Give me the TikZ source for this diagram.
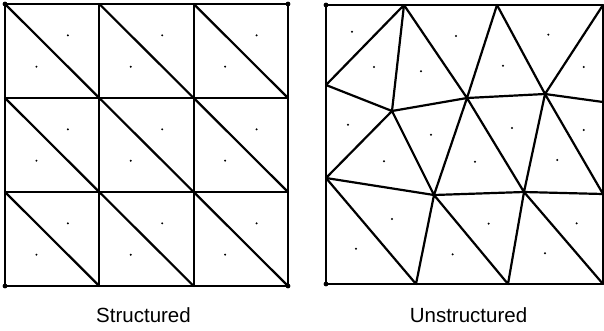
\documentclass[tikz,border=0pt]{standalone}
\usepackage{fontspec}
\setmainfont{Liberation Sans}
\usetikzlibrary{calc}
\tikzset{
  edge/.style={line width=2.2pt, line cap=round, line join=round},
  cdot/.style={fill=black},
  lbl/.style={font=\fontsize{20.5}{24}\selectfont, anchor=base}
}
\newcommand{\tridot}[3]{\fill ($0.33333*(#1)+0.33333*(#2)+0.33333*(#3)$) circle (1.1pt);}
\begin{document}
\begin{tikzpicture}[x=1pt,y=-1pt]
\useasboundingbox (0,0) rectangle (604,330);
% ---------- Structured ----------
\foreach \i/\x in {0/5,1/99.3,2/193.7,3/288}{
  \foreach \j/\y in {0/4,1/98,2/192,3/286}{
    \coordinate (s\i\j) at (\x,\y);
  }
}
\foreach \i in {0,1,2,3}{
  \draw[edge] (s\i0) -- (s\i3);
  \draw[edge] (s0\i) -- (s3\i);
}
\foreach \i/\ni in {0/1,1/2,2/3}{
  \foreach \j/\nj in {0/1,1/2,2/3}{
    \draw[edge] (s\i\j) -- (s\ni\nj);
    \tridot{s\i\j}{s\ni\j}{s\ni\nj}
    \tridot{s\i\j}{s\i\nj}{s\ni\nj}
  }
}
\foreach \c in {s00,s30,s03,s33}{\fill (\c) circle (2.4pt);}
\node[lbl] (lab1) at (143.5,322) {Structured};
% ---------- Unstructured ----------
\coordinate (A) at (326,5);
\coordinate (TR) at (603,5);
\coordinate (BL) at (326,284);
\coordinate (BR) at (603,284);
\coordinate (T1) at (404,5);
\coordinate (T2) at (497,5);
\coordinate (L1) at (326,85);
\coordinate (L2) at (326,178);
\coordinate (R1) at (603,102);
\coordinate (R2) at (603,194);
\coordinate (B1) at (416,284);
\coordinate (B2) at (508,284);
\coordinate (P1) at (392,111);
\coordinate (P2) at (467,98);
\coordinate (P3) at (545,94);
\coordinate (P4) at (434,195);
\coordinate (P5) at (524,192);
\draw[edge] (A) -- (TR) -- (BR) -- (BL) -- cycle;
\draw[edge] (L1) -- (T1) -- (P1);
\draw[edge] (T1) -- (P2) -- (T2) -- (P3) -- (TR);
\draw[edge] (L1) -- (P1) -- (P2) -- (P3) -- (R1);
\draw[edge] (L2) -- (P1) -- (P4) -- (P2) -- (P5) -- (P3) -- (R2);
\draw[edge] (L2) -- (P4) -- (P5) -- (R2);
\draw[edge] (L2) -- (B1) -- (P4) -- (B2) -- (P5) -- (BR);
\tridot{A}{T1}{L1}
\tridot{L1}{T1}{P1}
\tridot{T1}{P1}{P2}
\tridot{T1}{T2}{P2}
\tridot{T2}{P2}{P3}
\tridot{T2}{TR}{P3}
\tridot{TR}{P3}{R1}
\tridot{L1}{P1}{L2}
\tridot{P1}{L2}{P4}
\tridot{P1}{P2}{P4}
\tridot{P2}{P4}{P5}
\tridot{P2}{P3}{P5}
\tridot{P3}{P5}{R2}
\tridot{P3}{R1}{R2}
\tridot{L2}{BL}{B1}
\tridot{L2}{P4}{B1}
\tridot{P4}{B1}{B2}
\tridot{P4}{P5}{B2}
\tridot{P5}{B2}{BR}
\tridot{P5}{R2}{BR}
\foreach \c in {A,BL}{\fill (\c) circle (2.4pt);}
\node[lbl] (lab2) at (468.5,322) {Unstructured};
\end{tikzpicture}
\end{document}
